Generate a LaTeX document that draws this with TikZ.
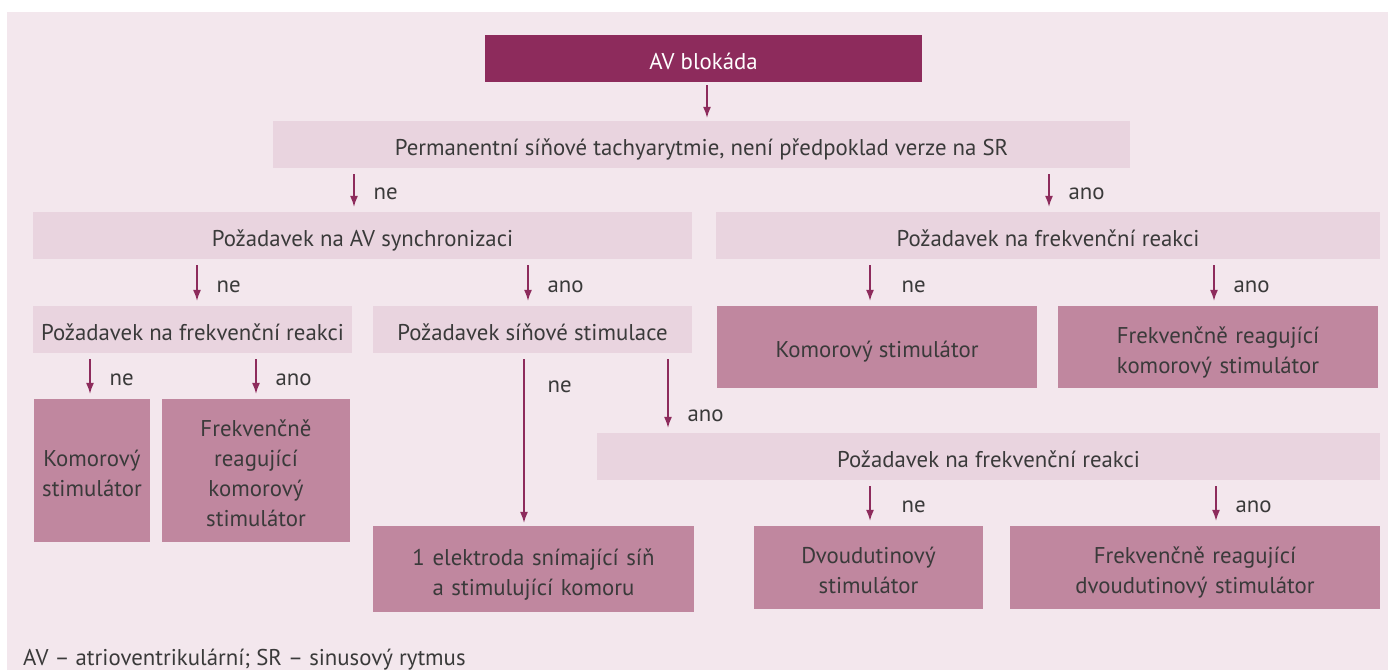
\documentclass[tikz,border=0pt]{standalone}
\usepackage{fontspec}
\setmainfont{PT Sans}
\usetikzlibrary{arrows.meta}

\definecolor{panelbg}{HTML}{F3E7ED}
\definecolor{boxlight}{HTML}{E9D4DF}
\definecolor{boxmid}{HTML}{C0879F}
\definecolor{boxdark}{HTML}{8D2B5C}
\definecolor{textgray}{HTML}{3A3A3A}

\newcommand{\chartfont}{\fontsize{22.8}{30}\selectfont}

\tikzset{
  box/.style={fill=boxlight, inner sep=0pt, text=textgray, align=center, font=\chartfont,
    execute at begin node={\rule[-6pt]{0pt}{#1}},
    execute at end node={\rule[-6pt]{0pt}{6pt}}},
  box/.default=33pt,
  endbox/.style={box=#1, fill=boxmid},
  endbox/.default=33pt,
  topbox/.style={box, fill=boxdark, text=white},
  arr/.style={draw=boxdark, line width=1.3pt, -{Latex[length=11pt,width=8pt]},
    shorten <=6pt, shorten >=5pt},
  lbl/.style={anchor=west, xshift=19pt, yshift=-4pt, inner sep=0pt, text=textgray,
    font=\chartfont}
}

\begin{document}
\begin{tikzpicture}[x=1pt,y=-1pt]
    \useasboundingbox (0,0) rectangle (1388,670);
    \fill[panelbg] (7,12) rectangle (1388,670);

    % first two levels
    \node[topbox, minimum width=437pt, minimum height=47pt] (av) at (703.5,58.5) {AV blokáda};
    \node[box, minimum width=857pt, minimum height=47pt] (perm) at (701.5,144.5)
        {Permanentní síňové tachyarytmie, není předpoklad verze na SR};
    \node[box, minimum width=659pt, minimum height=47pt] (sync) at (362.5,235.5)
        {Požadavek na AV synchronizaci};
    \node[box, minimum width=664pt, minimum height=47pt] (freqA) at (1048,235.5)
        {Požadavek na frekvenční reakci};

    % third level
    \node[box, minimum width=319pt, minimum height=47pt] (freqB) at (192.5,329.5)
        {Požadavek na frekvenční reakci};
    \node[box, minimum width=319pt, minimum height=47pt] (atrial) at (532.5,329.5)
        {Požadavek síňové stimulace};
    \node[endbox, minimum width=320pt, minimum height=82pt] (komA) at (877,347)
        {Komorový stimulátor};
    \node[endbox=34pt, text width=320pt, minimum height=82pt] (rkomA) at (1218,347)
        {Frekvenčně reagující\\komorový stimulátor};

    % bottom
    \node[endbox=34pt, text width=116pt, minimum height=143pt] (komB) at (92,470.5)
        {Komorový\\stimulátor};
    \node[endbox=34pt, text width=188pt, minimum height=143pt] (rkomB) at (256,470.5)
        {Frekvenčně\\reagující\\komorový\\stimulátor};
    \node[box, minimum width=783pt, minimum height=47pt] (freqC) at (988.5,456.5)
        {Požadavek na frekvenční reakci};
    \node[endbox=34pt, text width=321pt, minimum height=86pt] (single) at (533.5,569)
        {1 elektroda snímající síň\\a stimulující komoru};
    \node[endbox=34pt, text width=229pt, minimum height=83pt] (dual) at (868.5,567.5)
        {Dvoudutinový\\stimulátor};
    \node[endbox=34pt, text width=370pt, minimum height=83pt] (rdual) at (1195,567.5)
        {Frekvenčně reagující\\dvoudutinový stimulátor};

    % arrows
    \draw[arr, shorten <=3pt, shorten >=3pt] (av.south -| 707,0) -- (perm.north -| 707,0);
    \draw[arr] (perm.south -| 354,0) -- node[lbl] {ne} (sync.north -| 354,0);
    \draw[arr] (perm.south -| 1049,0) -- node[lbl] {ano} (freqA.north -| 1049,0);
    \draw[arr] (sync.south -| 197,0) -- node[lbl] {ne} (freqB.north -| 197,0);
    \draw[arr] (sync.south -| 528,0) -- node[lbl] {ano} (atrial.north -| 528,0);
    \draw[arr] (freqA.south -| 870,0) -- node[lbl, xshift=12pt] {ne} (komA.north -| 870,0);
    \draw[arr] (freqA.south -| 1214,0) -- node[lbl] {ano} (rkomA.north -| 1214,0);
    \draw[arr] (freqB.south -| 90,0) -- node[lbl] {ne} (komB.north -| 90,0);
    \draw[arr] (freqB.south -| 256,0) -- node[lbl] {ano} (rkomB.north -| 256,0);
    \draw[arr, shorten >=3pt] (atrial.south -| 524,0) -- node[lbl, pos=.17, xshift=4pt] {ne} (single.north -| 524,0);
    \draw[arr] (atrial.south -| 668,0) -- node[lbl, pos=.74] {ano} (freqC.north -| 668,0);
    \draw[arr] (freqC.south -| 870,0) -- node[lbl, xshift=12pt] {ne} (dual.north -| 870,0);
    \draw[arr] (freqC.south -| 1216,0) -- node[lbl] {ano} (rdual.north -| 1216,0);

    % footnote
    \node[anchor=base west, inner sep=0pt, text=textgray, font=\chartfont]
        (note) at (23,665) {AV – atrioventrikulární; SR – sinusový rytmus};
\end{tikzpicture}
\end{document}
